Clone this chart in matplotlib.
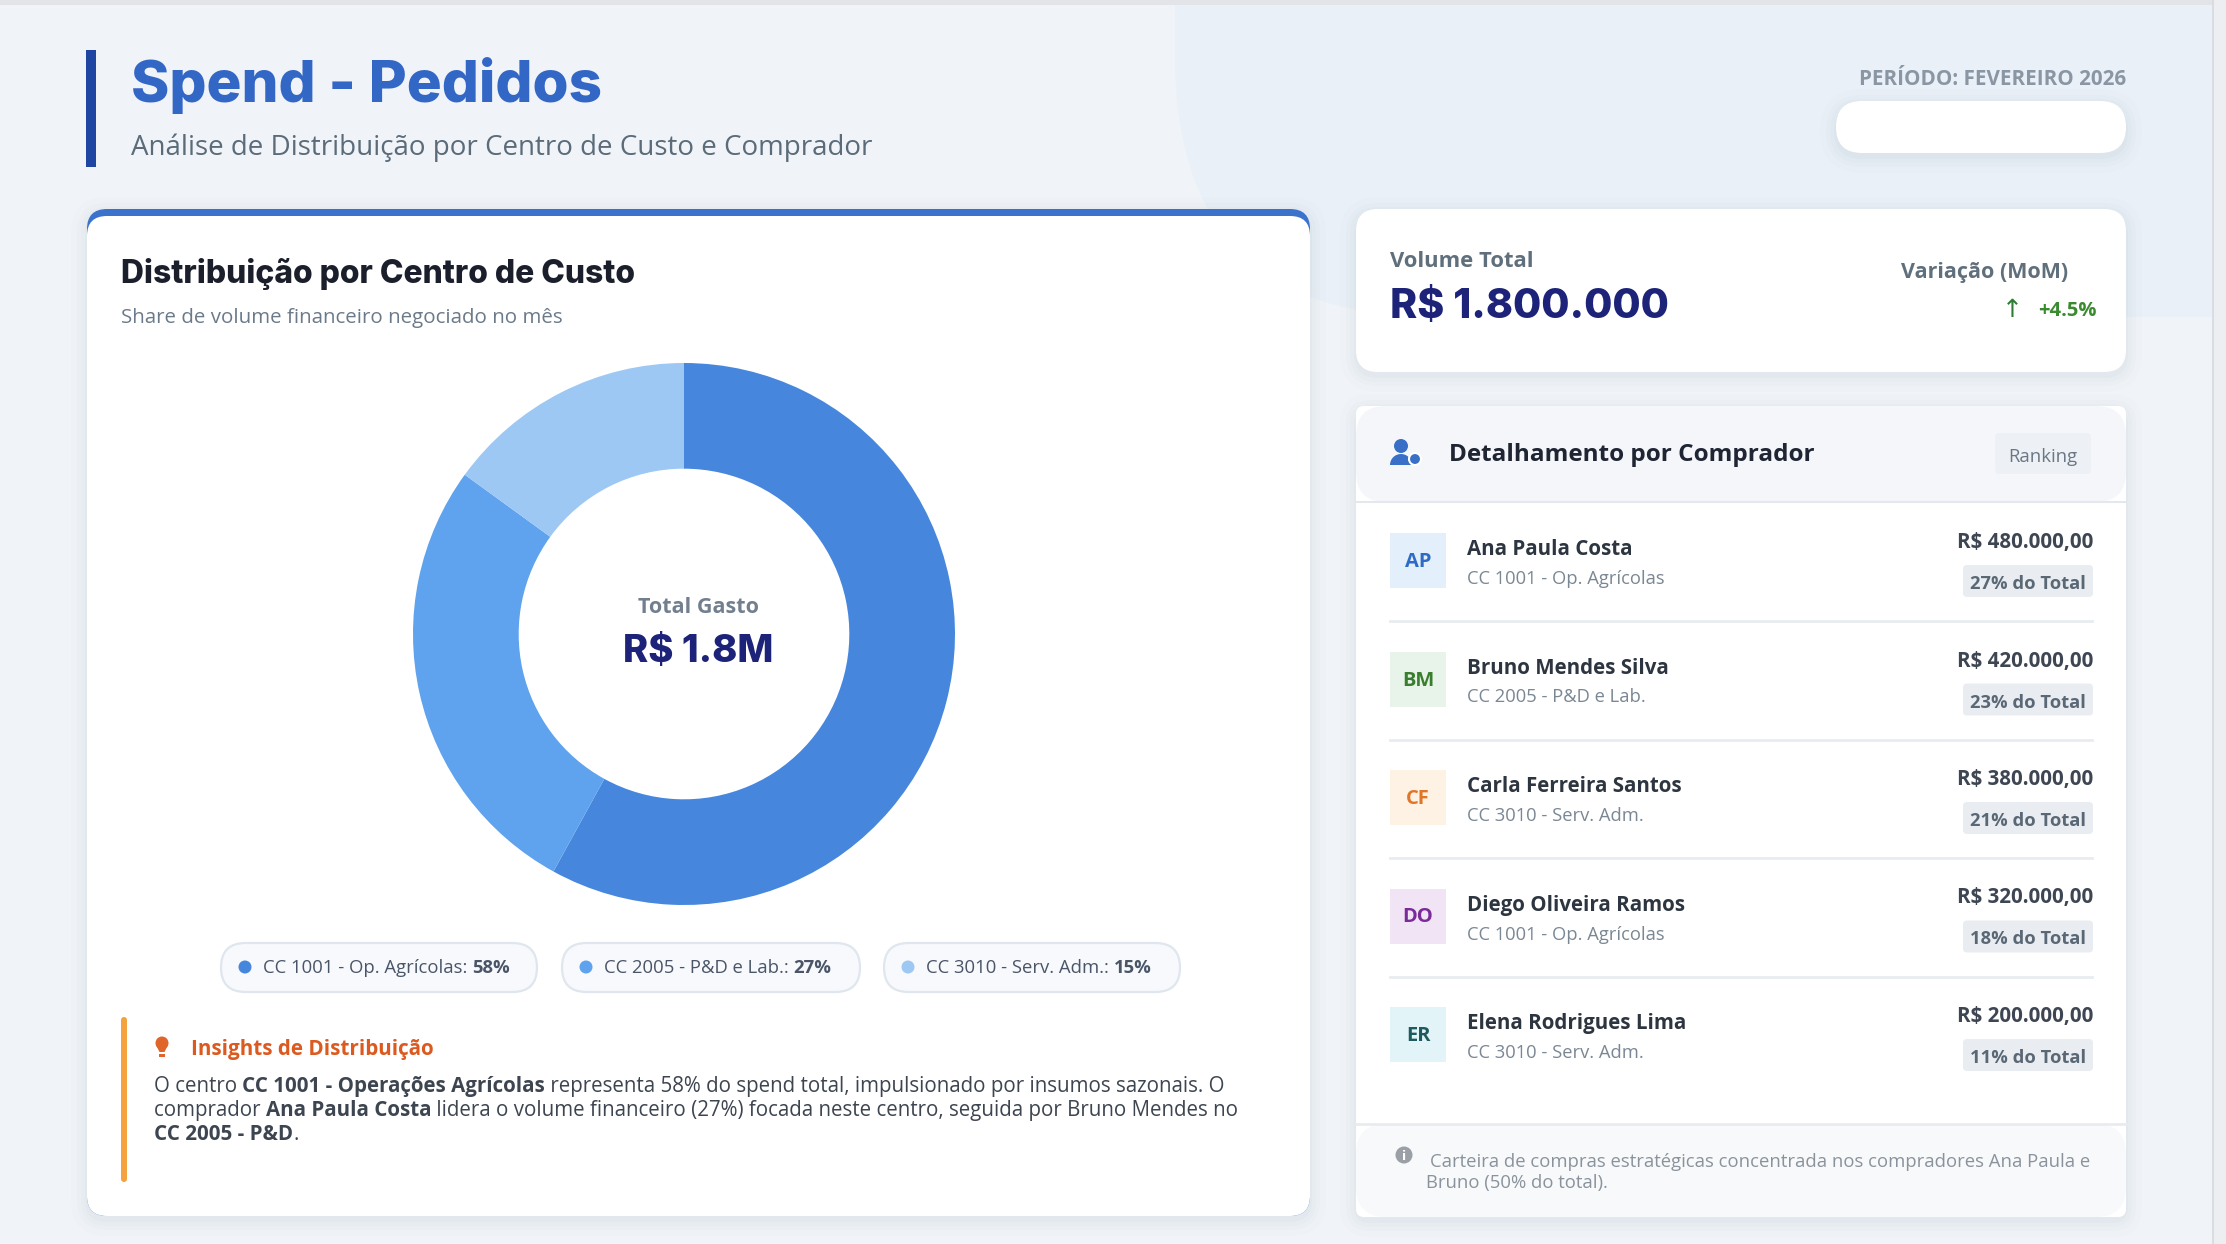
import matplotlib
matplotlib.use("Agg")
import matplotlib.pyplot as plt
from matplotlib.patches import FancyBboxPatch, Circle, Rectangle, Wedge, Polygon

W, H = 2226, 1244

# ── data ──
cc_labels = ["CC 1001 - Op. Agrícolas", "CC 2005 - P&D e Lab.", "CC 3010 - Serv. Adm."]
cc_share = [58, 27, 15]
cc_colors = ["#4687dd", "#5fa2ed", "#9ec8f4"]

buyer_names = ["Ana Paula Costa", "Bruno Mendes Silva", "Carla Ferreira Santos",
               "Diego Oliveira Ramos", "Elena Rodrigues Lima"]
buyer_initials = ["AP", "BM", "CF", "DO", "ER"]
buyer_cc = ["CC 1001 - Op. Agrícolas", "CC 2005 - P&D e Lab.", "CC 3010 - Serv. Adm.",
            "CC 1001 - Op. Agrícolas", "CC 3010 - Serv. Adm."]
buyer_value = [480000, 420000, 380000, 320000, 200000]
buyer_share = [27, 23, 21, 18, 11]
avatar_bg = ["#e3f0fc", "#e8f4ea", "#fdf2e3", "#f1e4f4", "#e2f4f8"]
avatar_fg = ["#2f6bc4", "#3a7d2e", "#e0762a", "#7a2a9a", "#1f5a5e"]

total_volume = 1800000
total_short = "R$ 1.8M"
mom_change = 4.5
periodo = "PERÍODO: FEVEREIRO 2026"

HEAD = ["Inter", "DejaVu Sans"]
BODY = ["Open Sans", "DejaVu Sans"]


def brl(v, dec=2):
    s = f"{v:,.{dec}f}"
    return "R$ " + s.replace(",", "X").replace(".", ",").replace("X", ".")


fig = plt.figure(figsize=(W / 100, H / 100), dpi=100)
fig.patch.set_facecolor("#f0f4f9")
ax = fig.add_axes([0, 0, 1, 1])
ax.set_xlim(0, W)
ax.set_ylim(H, 0)
ax.axis("off")
rend = fig.canvas.get_renderer()


def rbox(x, y, w, h, r, fc, ec="none", lw=0, z=1, alpha=1):
    p = FancyBboxPatch((x, y), w, h, boxstyle=f"round,pad=0,rounding_size={r}",
                       fc=fc, ec=ec, lw=lw, zorder=z, alpha=alpha)
    ax.add_patch(p)
    return p


def shadow(x, y, w, h, r):
    for i, a in [(16, 0.012), (10, 0.018), (6, 0.022), (2, 0.03)]:
        rbox(x - i, y - i + 4, w + 2 * i, h + 2 * i, r + i, "#64748b", z=0.5, alpha=a)


def txt(x, y, s, size, color, bold=False, family=BODY, ha="left", z=5):
    if bold is True:
        w = "bold"
    elif bold is False:
        w = "normal"
    else:
        w = bold
    return ax.text(x, y, s, fontsize=size, color=color, family=family,
                   fontweight=w, ha=ha, va="baseline", zorder=z)


def tw(s, size, bold, family=BODY):
    w = "bold" if bold else "normal"
    t = ax.text(0, 0, s + "|", fontsize=size, fontweight=w, family=family)
    w1 = t.get_window_extent(rend).width
    t.set_text("|")
    w2 = t.get_window_extent(rend).width
    t.remove()
    return w1 - w2


def rich(x, y, parts, size, color, family=BODY):
    for s, b in parts:
        txt(x, y, s, size, color, bold=b, family=family)
        x += tw(s, size, b, family)
    return x


# ── page background ──
rbox(1175, -400, 1300, 717, 260, "#e9f0f8", z=0.1)
ax.add_patch(Rectangle((0, 0), W, 5, fc="#e2e4e7", ec="none", zorder=0.2))
ax.add_patch(Rectangle((2213, 0), 13, H, fc="#eceef1", ec="none", zorder=0.2))
ax.plot([2213, 2213], [0, H], color="#d6d9de", lw=1.2, zorder=0.3)

# ── header ──
ax.add_patch(Rectangle((86, 50), 10, 117, fc="#1f45a3", ec="none", zorder=2))
txt(131, 102, "Spend - Pedidos", 42, "#3367c6", bold="heavy", family=HEAD)
txt(131, 155, "Análise de Distribuição por Centro de Custo e Comprador", 20, "#5b6b79")

txt(2126, 85, periodo, 14.9, "#8a96a3", bold=True, ha="right")
shadow(1836, 101, 290, 52, 26)
rbox(1836, 101, 290, 52, 26, "white", z=1)

# ── left card ──
shadow(87, 209, 1223, 1007, 20)
rbox(87, 209, 1223, 1007, 20, "#3a72cc", z=1)
rbox(87, 216, 1223, 1000, 20, "white", z=1.1)
txt(121, 283, "Distribuição por Centro de Custo", 22.9, "#1b1f2c", bold="heavy", family=HEAD)
txt(121, 323, "Share de volume financeiro negociado no mês", 14.75, "#6b7a8a")

# donut
cx, cy, R = 684, 634, 271
dax = fig.add_axes([(cx - R) / W, 1 - (cy + R) / H, 2 * R / W, 2 * R / H])
dax.pie(cc_share, colors=cc_colors, startangle=90, counterclock=False, radius=1,
        wedgeprops=dict(width=0.39, linewidth=0))
dax.set_xlim(-1, 1)
dax.set_ylim(-1, 1)
dax.set_aspect("equal")
dax.axis("off")
txt(698, 613, "Total Gasto", 15.5, "#717f8f", bold=True, ha="center")
txt(698, 662, total_short, 27.5, "#1c2378", bold="heavy", family=HEAD, ha="center")

# legend pills
pill_x = [221, 562, 884]
pill_w = [316, 298, 296]
for px, pw, lab, sh, col in zip(pill_x, pill_w, cc_labels, cc_share, cc_colors):
    rbox(px, 943, pw, 49, 24.5, "#f7f9fc", ec="#e0e6ee", lw=1.6, z=2)
    ax.add_patch(Circle((px + 24, 967), 6.5, fc=col, ec="none", zorder=3))
    rich(px + 42, 973, [(lab + ": ", False), (f"{sh}%", True)], 13.3, "#4a5568")

# insights
rbox(121, 1017, 6, 165, 3, "#f4a23e", z=2)
ax.add_patch(Circle((162, 1043), 6.5, fc="#e0652a", ec="none", zorder=3))
ax.add_patch(Polygon([(156, 1045), (168, 1045), (164.5, 1052), (159.5, 1052)],
                     fc="#e0652a", ec="none", zorder=3))
ax.add_patch(Rectangle((159, 1053.5), 6, 3, fc="#e0652a", ec="none", zorder=3))
txt(191, 1055, "Insights de Distribuição", 14.9, "#dc5a1f", bold=True)
ins_col = "#3d4550"
ins_size = 14.8
rich(154, 1092, [("O centro ", False), ("CC 1001 - Operações Agrícolas", True),
                 (" representa 58% do spend total, impulsionado por insumos sazonais. O", False)],
     ins_size, ins_col)
rich(154, 1116, [("comprador ", False), ("Ana Paula Costa", True),
                 (" lidera o volume financeiro (27%) focada neste centro, seguida por Bruno Mendes no", False)],
     ins_size, ins_col)
rich(154, 1140, [("CC 2005 - P&D", True), (".", False)], ins_size, ins_col)

# ── KPI card ──
shadow(1356, 209, 770, 163, 22)
rbox(1356, 209, 770, 163, 22, "white", z=1)
txt(1390, 267, "Volume Total", 15.8, "#5f6f7c", bold=True)
txt(1390, 318, brl(total_volume, 0), 29.5, "#1c2378", bold="heavy", family=HEAD)
txt(1901, 278, "Variação (MoM)", 15.5, "#5f6f7c", bold=True)
txt(2012, 317, "↑", 18, "#2e7d32", family=["DejaVu Sans"], ha="center")
txt(2038, 316, f"+{mom_change}%", 14.5, "#3a8a2f", bold=True)

# ── buyers card ──
shadow(1356, 406, 770, 811, 14)
rbox(1356, 406, 770, 811, 8, "white", z=1)
rbox(1356, 406, 770, 96, 30, "#f4f6fa", z=1.2)
ax.plot([1356, 2126], [502, 502], color="#e3e8ee", lw=1.5, zorder=1.3)
# user icon
ic = "#3a6fc8"
ax.add_patch(Circle((1401, 446), 7, fc=ic, ec="none", zorder=3))
ax.add_patch(Wedge((1401, 465), 11, 180, 360, fc=ic, ec="none", zorder=3))
ax.add_patch(Circle((1415, 459), 6, fc=ic, ec="white", lw=1.5, zorder=3.1))
txt(1449, 461, "Detalhamento por Comprador", 17.5, "#1f2533", bold=True)
rbox(1995, 433, 96, 41, 4, "#edf1f5", z=2)
txt(2043, 462, "Ranking", 13.3, "#6b7785", ha="center")

row0, pitch = 533, 118.5
for i, (nm, ini, cc, val, sh) in enumerate(zip(buyer_names, buyer_initials, buyer_cc,
                                               buyer_value, buyer_share)):
    top = row0 + i * pitch
    ax.add_patch(Rectangle((1390, top), 56, 55, fc=avatar_bg[i], ec="none", zorder=2))
    txt(1418, top + 34, ini, 14.5, avatar_fg[i], bold=True, ha="center")
    txt(1467, top + 22, nm, 14.8, "#2d3540", bold=True)
    txt(1467, top + 51, cc, 13.2, "#7a8794")
    txt(2093, top + 15, brl(val), 14.8, "#3d4652", bold=True, ha="right")
    rbox(1963, top + 32, 130, 32, 4, "#e9edf1", z=2)
    txt(2028, top + 56, f"{sh}% do Total", 13.2, "#5a6775", bold=True, ha="center")
    if i < len(buyer_names) - 1:
        ax.plot([1390, 2092], [top + 88, top + 88], color="#e8ecf0", lw=2, zorder=2)

# footer note
rbox(1356, 1124, 770, 93, 30, "#f8f9fa", z=1.2)
ax.plot([1356, 2126], [1124, 1124], color="#e8ecf0", lw=2, zorder=1.3)
ax.add_patch(Circle((1404, 1155), 8.5, fc="#9aa0a6", ec="none", zorder=3))
txt(1404, 1160, "i", 9, "white", bold=True, family=["DejaVu Sans"], ha="center")
txt(1430, 1167, "Carteira de compras estratégicas concentrada nos compradores Ana Paula e",
    13.35, "#8a939c")
txt(1426, 1188, "Bruno (50% do total).", 13.35, "#8a939c")

fig.savefig("out.png", dpi=100, facecolor=fig.get_facecolor())
